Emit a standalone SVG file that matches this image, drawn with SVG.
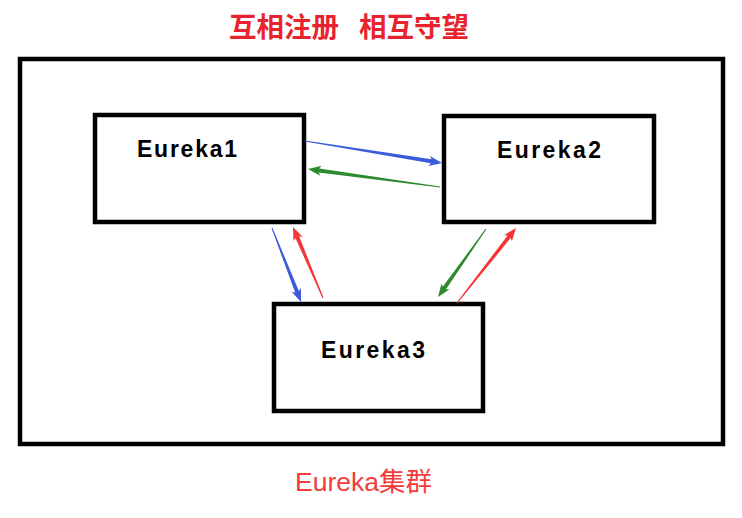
<svg xmlns="http://www.w3.org/2000/svg" width="742" height="518" viewBox="0 0 742 518">
<style>
.box{fill:none;stroke:#000;stroke-width:4.5}
.lbl{font-family:"Liberation Sans","DejaVu Sans",sans-serif;font-size:23px;font-weight:bold;fill:#000}
.title{font-family:"Noto Sans CJK SC",sans-serif;font-size:27.5px;font-weight:bold;fill:#e8232e}
.foot{font-family:"Liberation Sans","Noto Sans CJK SC",sans-serif;font-size:26.5px;fill:#f23b3b}
.blue{fill:#3b5bdb}.green{fill:#2e8a2e}.red{fill:#f53535}
</style>
<rect width="742" height="518" fill="#fff"/>
<g id="title"><text class="title" x="229" y="37">互相注册</text><text class="title" x="359" y="37">相互守望</text></g>
<g id="cluster"><rect class="box" x="20" y="59" width="703" height="385"/></g>
<g id="eureka1"><rect class="box" x="95" y="115" width="209" height="107"/><text class="lbl" x="137" y="157" textLength="100" lengthAdjust="spacing">Eureka1</text></g>
<g id="eureka2"><rect class="box" x="444" y="116" width="210" height="106"/><text class="lbl" x="497" y="158" textLength="104" lengthAdjust="spacing">Eureka2</text></g>
<g id="eureka3"><rect class="box" x="274" y="304" width="209" height="107"/><text class="lbl" x="321" y="358" textLength="104" lengthAdjust="spacing">Eureka3</text></g>
<g id="connectors">
<polygon class="blue" transform="translate(305,141) rotate(9.12)" points="0,-0.5 127.8,-2 125.8,-5 138.8,0 125.8,5 127.8,2 0,0.5"/>
<polygon class="green" transform="translate(440,187) rotate(187.76)" points="0,-0.5 122.2,-2 120.2,-5 133.2,0 120.2,5 122.2,2 0,0.5"/>
<polygon class="blue" transform="translate(272,228) rotate(68.6)" points="0,-0.5 68.5,-2 66.5,-5 79.5,0 66.5,5 68.5,2 0,0.5"/>
<polygon class="red" transform="translate(323,298) rotate(-112.9)" points="0,-0.6 66.1,-2 64.1,-5 77.1,0 64.1,5 66.1,2 0,0.6"/>
<polygon class="green" transform="translate(486,229) rotate(125.2)" points="0,-0.5 72.2,-2 70.2,-5 83.2,0 70.2,5 72.2,2 0,0.5"/>
<polygon class="red" transform="translate(457,303) rotate(-51.8)" points="0,-0.6 84.4,-2 82.4,-5 95.4,0 82.4,5 84.4,2 0,0.6"/>
</g>
<g id="footer"><text class="foot" x="295" y="491">Eureka集群</text></g>
</svg>
